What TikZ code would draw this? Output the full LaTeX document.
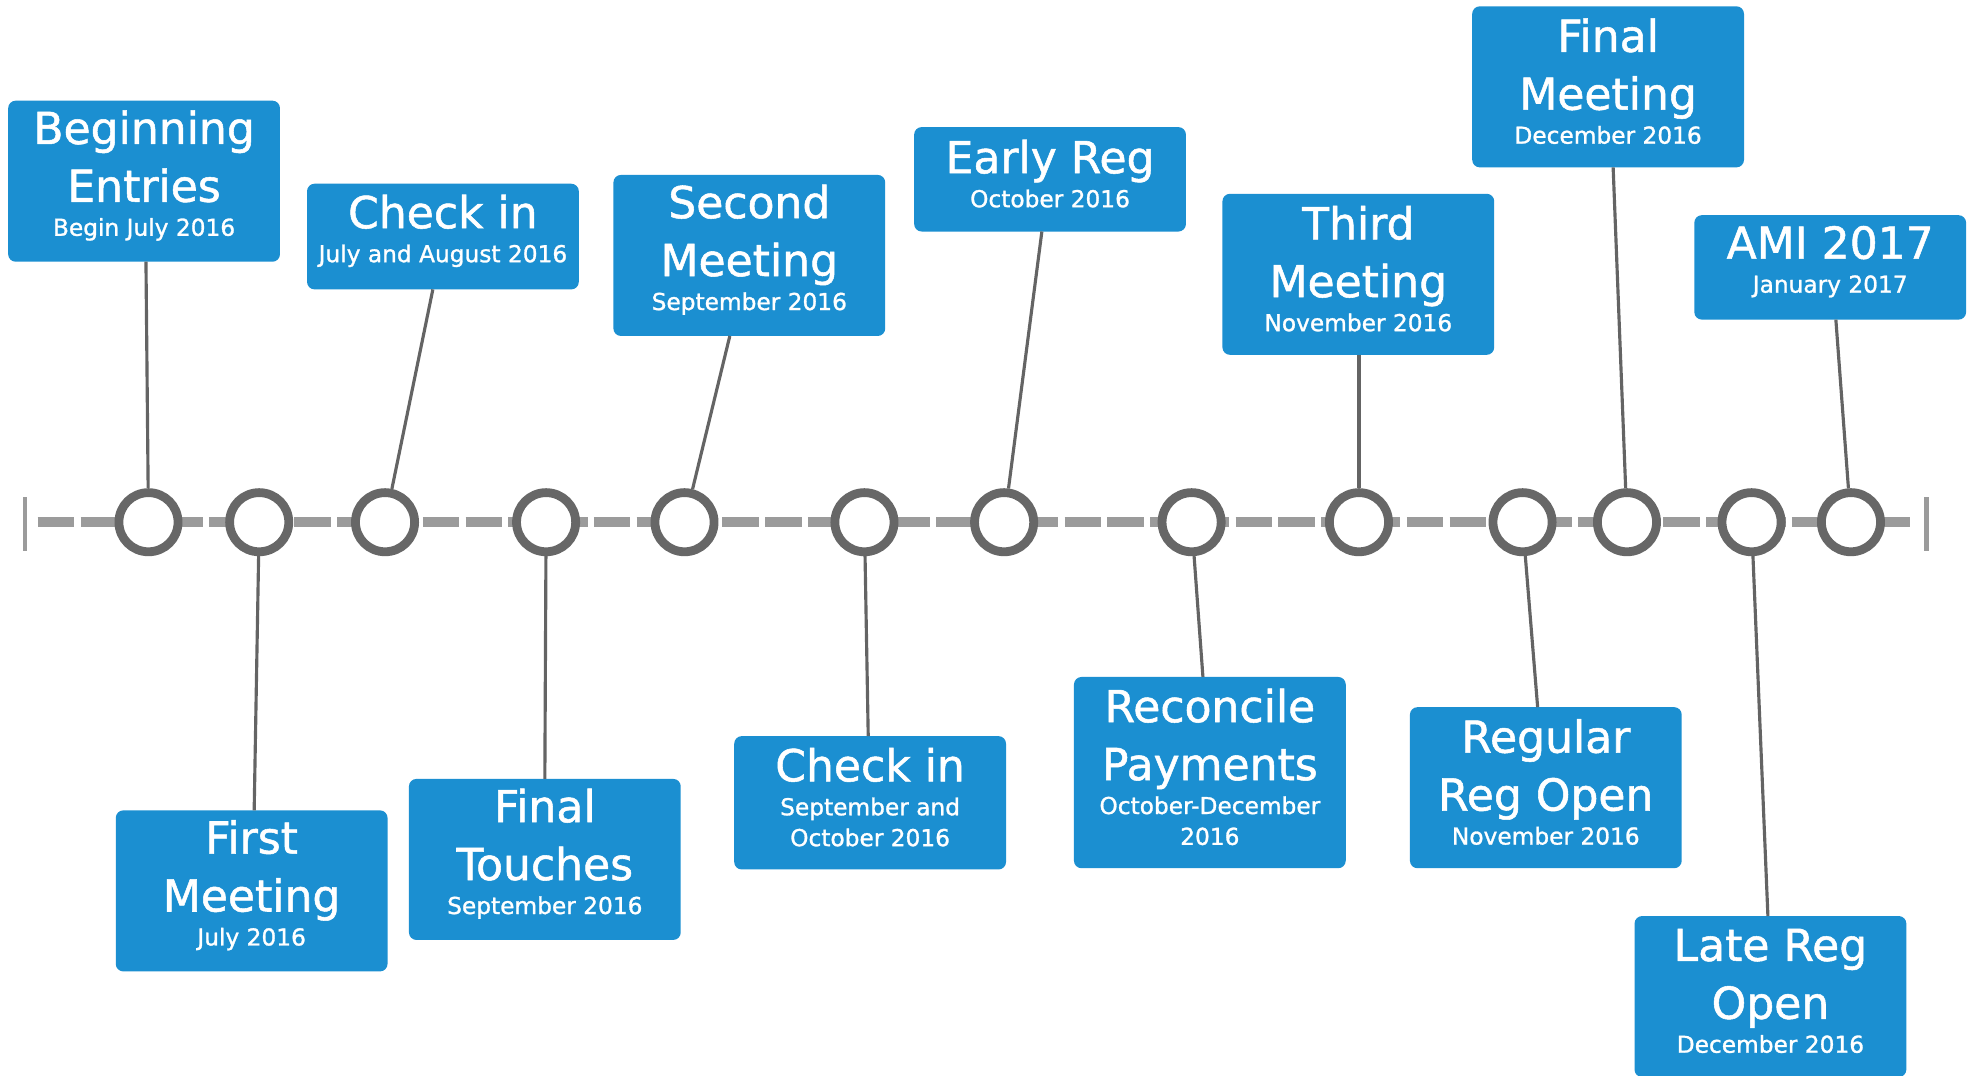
\documentclass[tikz,border=0pt]{standalone}
\usepackage{fontspec}
\setmainfont{DejaVu Sans}
\newfontfamily\evfont{DejaVu Sans}[FakeBold=1.2]
\pgfdeclarelayer{bg}
\pgfsetlayers{bg,main}
\definecolor{evblue}{RGB}{27,143,209}
\definecolor{ringgray}{RGB}{103,103,103}
\definecolor{axisgray}{RGB}{155,155,155}
\definecolor{stemgray}{RGB}{100,100,100}
\newcommand\evbig{\fontsize{35}{46}\selectfont}
\newcommand\evsmall{\fontsize{18.5}{24.5}\selectfont}
\newcommand\evtext[2]{\evfont\parindent=0pt\spaceskip=0pt\xspaceskip=0pt%
  \leftskip=0pt plus 1fil\rightskip=0pt plus 1fil\parfillskip=0pt%
  {\evbig #1\par}{\evsmall\vspace{2.5pt}#2\par}\vspace{9pt}}
\tikzset{
  evbox/.style={fill=evblue, rounded corners=6pt, text=white, minimum width=216pt,
    text width=214pt, align=center, inner sep=0pt, outer sep=0pt},
  evdot/.style={circle, draw=ringgray, line width=7pt, fill=white, minimum size=47pt, inner sep=0pt},
  evstem/.style={draw=stemgray, line width=2.5pt},
  evaxis/.style={draw=axisgray, line width=8pt, dash pattern=on 29pt off 5pt},
  evtick/.style={draw=axisgray, line width=3.5pt}
}
\begin{document}
\begin{tikzpicture}[x=1pt,y=-1pt]
\useasboundingbox (0,0) rectangle (1568,855);

% timeline
\coordinate (axl) at (30,415);
\coordinate (axr) at (1518,415);
\coordinate (tl1) at (20,395); \coordinate (tl2) at (20,438);
\coordinate (tr1) at (1531,395); \coordinate (tr2) at (1531,438);
\begin{pgfonlayer}{bg}
\fill[white] (0,0) rectangle (1568,855);
\draw[evaxis] (axl) -- (axr);
\draw[evtick] (tl1) -- (tl2);
\draw[evtick] (tr1) -- (tr2);
\end{pgfonlayer}

% milestones
\foreach \n/\x in {1/118,2/206,3/306,4/434,5/544,6/687,7/798,8/947,9/1080,10/1210,11/1293,12/1392,13/1471}
  \node[evdot] (c\n) at (\x,415) {};

% boxes above
\node[evbox, minimum height=128pt] (b1) at (114.5,144) {\evtext{Beginning\par Entries}{Begin July 2016}};
\node[evbox, minimum height=84pt] (b2) at (352,188) {\evtext{Check in}{July and August 2016}};
\node[evbox, minimum height=128pt] (b3) at (595.5,203) {\evtext{Second\par Meeting}{September 2016}};
\node[evbox, minimum height=83pt] (b4) at (834.5,142.5) {\evtext{Early Reg}{October 2016}};
\node[evbox, minimum height=128pt] (b5) at (1079.5,218) {\evtext{Third\par Meeting}{November 2016}};
\node[evbox, minimum height=128pt] (b6) at (1278,69) {\evtext{Final\par Meeting}{December 2016}};
\node[evbox, minimum height=83pt] (b7) at (1454.5,212.5) {\evtext{AMI 2017}{January 2017}};

% boxes below
\node[evbox, minimum height=128pt] (b8) at (200,708) {\evtext{First\par Meeting}{July 2016}};
\node[evbox, minimum height=128pt] (b9) at (433,683) {\evtext{Final\par Touches}{September 2016}};
\node[evbox, minimum height=106pt] (b10) at (691.5,638) {\evtext{Check in}{September and\par October 2016}};
\node[evbox, minimum height=152pt] (b11) at (961.5,614) {\evtext{Reconcile\par Payments}{October-December\par 2016}};
\node[evbox, minimum height=128pt] (b12) at (1228.5,626) {\evtext{Regular\par Reg Open}{November 2016}};
\node[evbox, minimum height=128pt] (b13) at (1407,792) {\evtext{Late Reg\par Open}{December 2016}};

% connectors
\draw[evstem] ([xshift=1.5pt]b1.south) -- (c1);
\draw[evstem] ([xshift=-8pt]b2.south) -- (c3);
\draw[evstem] ([xshift=-15.5pt]b3.south) -- (c5);
\draw[evstem] ([xshift=-6.5pt]b4.south) -- (c7);
\draw[evstem] ([xshift=0.5pt]b5.south) -- (c9);
\draw[evstem] ([xshift=4pt]b6.south) -- (c11);
\draw[evstem] ([xshift=4.5pt]b7.south) -- (c13);
\draw[evstem] ([xshift=2pt]b8.north) -- (c2);
\draw[evstem] (b9.north) -- (c4);
\draw[evstem] ([xshift=-1.5pt]b10.north) -- (c6);
\draw[evstem] ([xshift=-5.5pt]b11.north) -- (c8);
\draw[evstem] ([xshift=-6.5pt]b12.north) -- (c10);
\draw[evstem] ([xshift=-2pt]b13.north) -- (c12);
\end{tikzpicture}
\end{document}
